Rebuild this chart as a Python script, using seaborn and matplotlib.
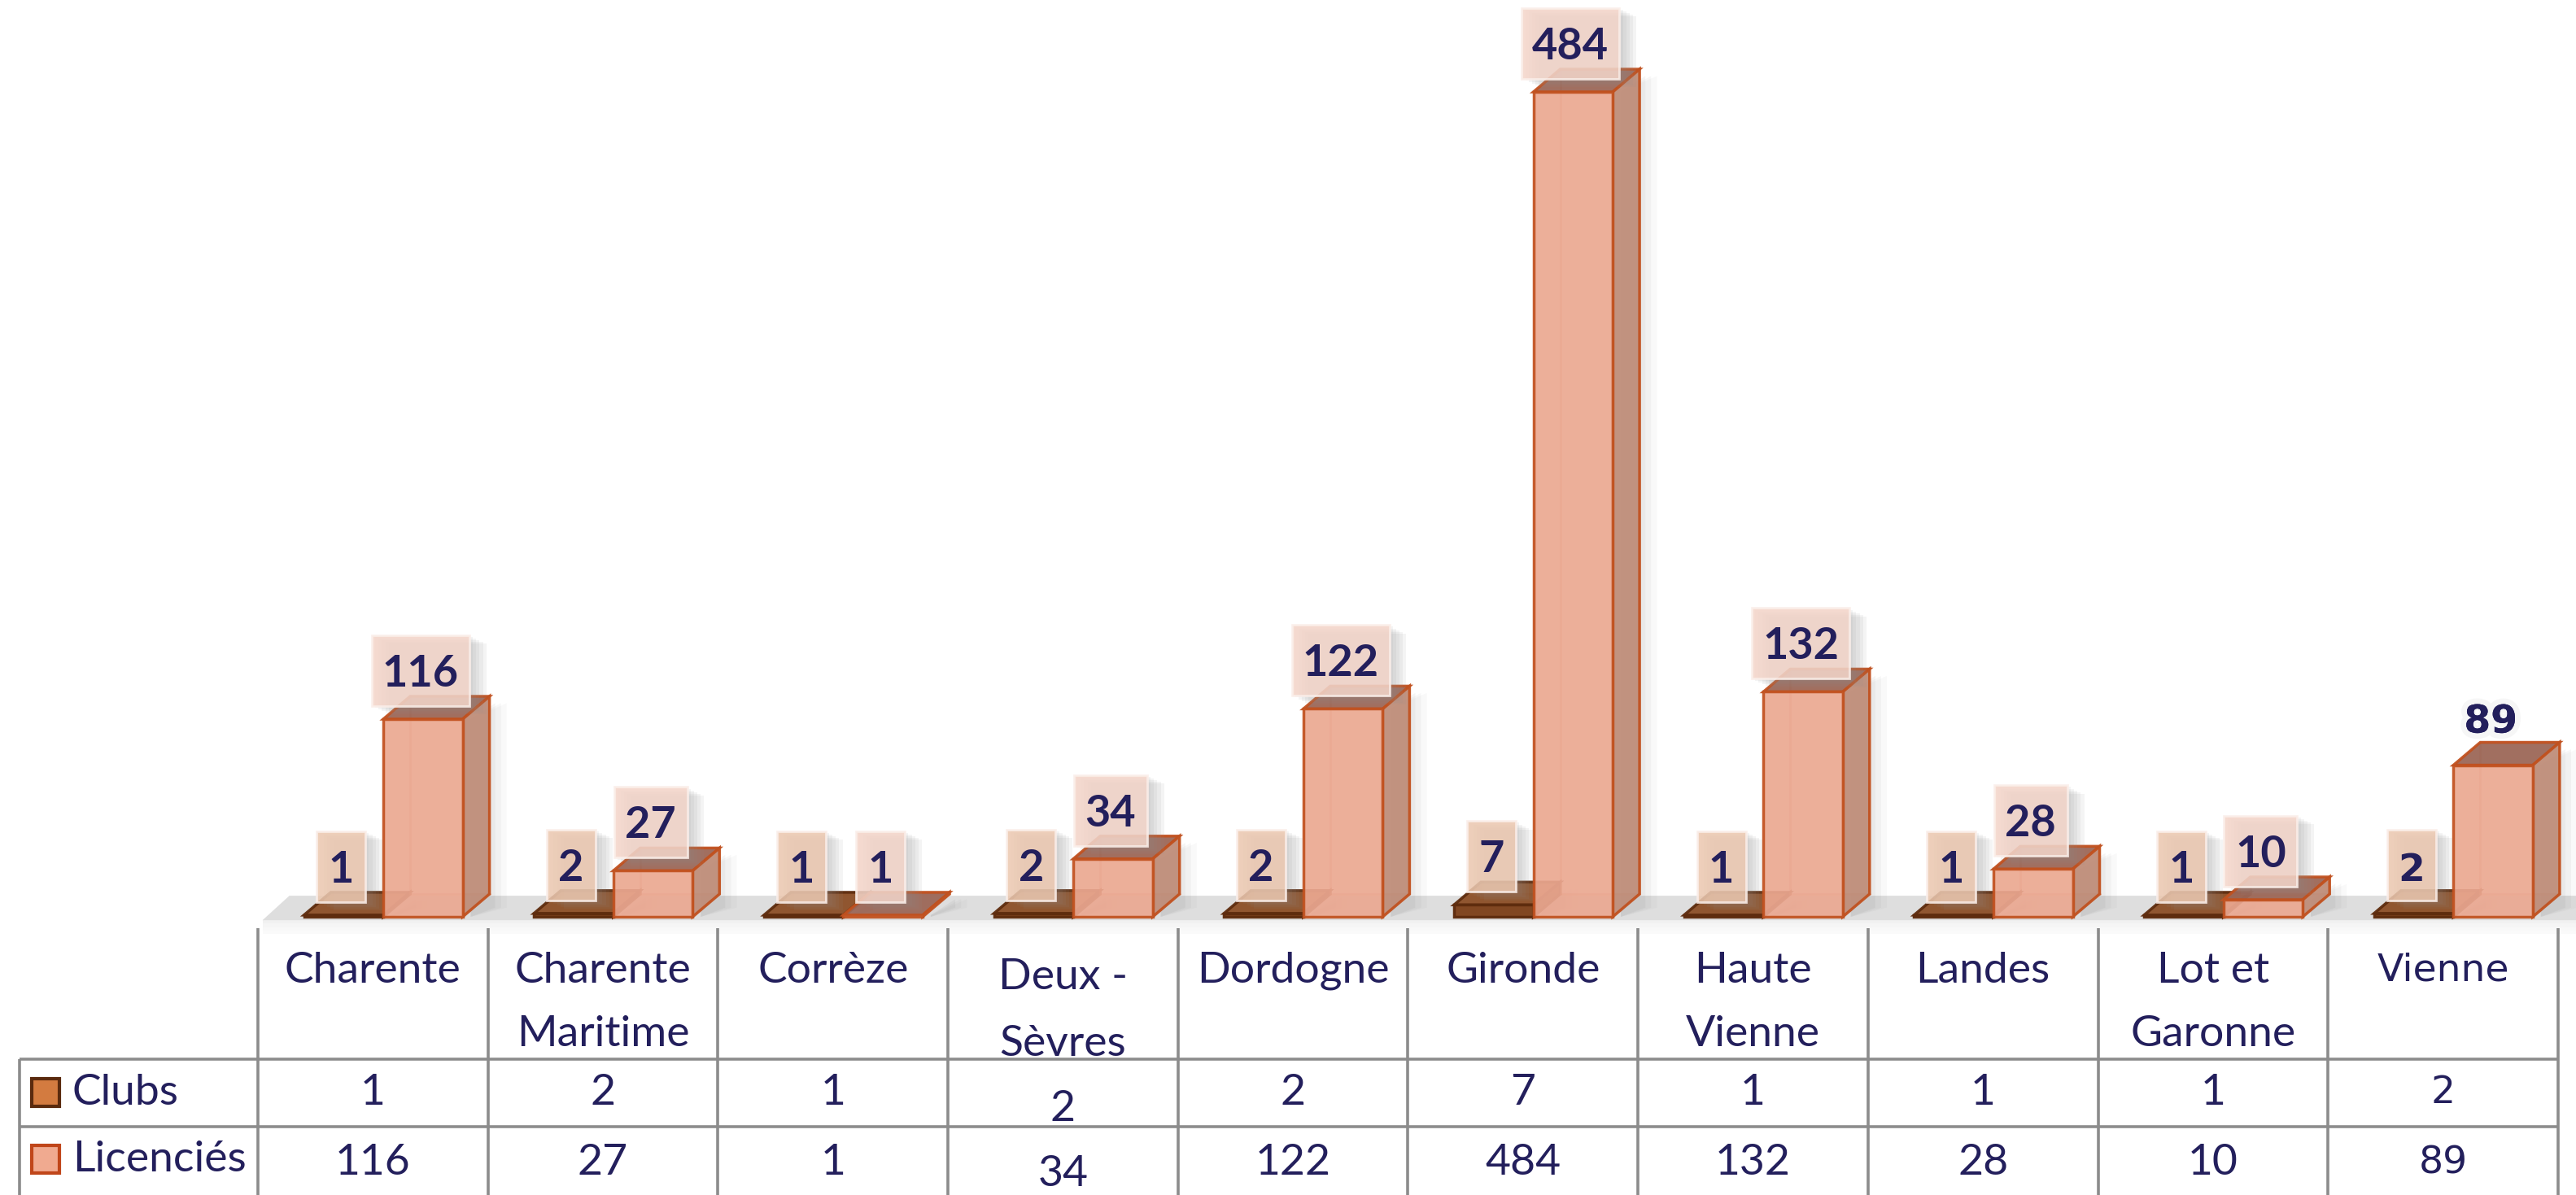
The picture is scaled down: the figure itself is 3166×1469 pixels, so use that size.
import numpy as np
import pandas as pd
import matplotlib
matplotlib.use("Agg")
import matplotlib.pyplot as plt
import seaborn as sns
from matplotlib.patches import Polygon, Rectangle
from matplotlib import patheffects as pe

# ---- data -------------------------------------------------------------
categories = ["Charente", "Charente Maritime", "Corrèze", "Deux - Sèvres", "Dordogne",
              "Gironde", "Haute Vienne", "Landes", "Lot et Garonne", "Vienne"]
header_lines = [["Charente"], ["Charente", "Maritime"], ["Corrèze"], ["Deux -", "Sèvres"],
                ["Dordogne"], ["Gironde"], ["Haute", "Vienne"], ["Landes"],
                ["Lot et", "Garonne"], ["Vienne"]]
series = ["Clubs", "Licenciés"]
clubs = [1, 2, 1, 2, 2, 7, 1, 1, 1, 2]
licencies = [116, 27, 1, 34, 122, 484, 132, 28, 10, 89]

# ---- page geometry (pixels) -------------------------------------------
W, H = 3166, 1469
COL0, COLW = 317, 282.7       # left edge of first category column, column width
BASE, PXU = 1127, 2.095       # floor line (from top) and pixels per unit
DX = 33 / COLW                # depth offset of the 3D boxes (data units)
DY = 28 / PXU

NAVY = "#231f5c"
GRID = "#8c8c8c"
MAIN_FONT = ["Lato", "DejaVu Sans"]
ALT_FONT = ["DejaVu Sans"]

sns.set_theme(style="white")
plt.rcParams["font.family"] = MAIN_FONT

fig = plt.figure(figsize=(W / 100, H / 100), dpi=100)
fig.patch.set_facecolor("white")

# table layer (pixel coordinates)
tab = fig.add_axes([0, 0, 1, 1], zorder=0)
tab.set_xlim(0, W)
tab.set_ylim(H, 0)
tab.axis("off")

# chart layer (data coordinates)
ax = fig.add_axes([0, 0, 1, 1], zorder=1)
ax.patch.set_visible(False)

df = pd.DataFrame({
    "Département": categories * 2,
    "Série": [series[0]] * len(categories) + [series[1]] * len(categories),
    "Valeur": clubs + licencies,
})

front_colors = {"Clubs": "#7e421c", "Licenciés": "#eba891"}
sns.barplot(data=df, x="Département", y="Valeur", hue="Série",
            order=categories, hue_order=series, palette=front_colors,
            width=0.69, dodge=True, saturation=1, legend=False,
            errorbar=None, ax=ax)

ax.set_xlim(-0.5 - COL0 / COLW, -0.5 + (W - COL0) / COLW)
ax.set_ylim(-(H - BASE) / PXU, BASE / PXU)
ax.axis("off")

# ---- floor ----------------------------------------------------------------
xl, xr = -0.48, ax.get_xlim()[1] + 0.2
for k, a in enumerate([0.10, 0.07, 0.05, 0.03]):
    ax.add_patch(Polygon([(xl, -2 - 2 * k), (xr, -2 - 2 * k), (xr, -4 - 2 * k), (xl, -4 - 2 * k)],
                         closed=True, fc="#7a7a7a", ec="none", alpha=a, zorder=1))
ax.add_patch(Polygon([(xl, -2), (xr, -2), (xr + DX, DY - 1), (xl + DX, DY - 1)],
                     closed=True, fc="#dedede", ec="none", zorder=1.2))

# ---- 3D boxes ---------------------------------------------------------------
styles = {
    "Clubs": dict(side="#6a3414", top="#8c4f26", edge="#5e2c0e", alpha=0.97),
    "Licenciés": dict(side="#bf8d79", top="#9c6757", edge="#c1511f", alpha=0.92),
}
shift = 0.045
bar_geom = {s: [] for s in series}
for s, cont, zbase in zip(series, ax.containers, [3, 5]):
    st = styles[s]
    for i, rect in enumerate(cont):
        rect.set_x(rect.get_x() + shift)
        x0, w, h = rect.get_x(), rect.get_width(), rect.get_height()
        bar_geom[s].append((x0, w, h))
        z = zbase + i * 0.01
        # soft shadow to the right of the box
        for k, a in enumerate([0.06, 0.045, 0.03]):
            off = (k + 1) * 0.025
            ax.add_patch(Polygon([(x0 + w + DX * 0.3, 0), (x0 + w + DX + off, DY * 0.4),
                                  (x0 + w + DX + off, h + DY - 4), (x0 + w + DX * 0.3, h)],
                                 closed=True, fc="#555555", ec="none", alpha=a, zorder=z - 0.5))
        # back edges seen through the translucent faces
        ax.plot([x0 + DX, x0 + DX], [DY, h + DY], color=st["edge"], lw=2, alpha=0.35, zorder=z)
        ax.plot([x0 + DX, x0 + w + DX], [DY, DY], color=st["edge"], lw=2, alpha=0.35, zorder=z)
        ax.add_patch(Polygon([(x0, h), (x0 + w, h), (x0 + w + DX, h + DY), (x0 + DX, h + DY)],
                             closed=True, fc=st["top"], ec=st["edge"], lw=2.5,
                             alpha=0.95, zorder=z + 0.1))
        ax.add_patch(Polygon([(x0 + w, 0), (x0 + w + DX, DY), (x0 + w + DX, h + DY), (x0 + w, h)],
                             closed=True, fc=st["side"], ec=st["edge"], lw=2.5,
                             alpha=0.95, zorder=z + 0.1))
        rect.set_edgecolor(st["edge"])
        rect.set_linewidth(2.5)
        rect.set_alpha(st["alpha"])
        rect.set_zorder(z + 0.2)

# ---- value labels -----------------------------------------------------------
box_colors = {"Clubs": "#ecc8b0", "Licenciés": "#f4d5c9"}
shadow = [pe.SimplePatchShadow(offset=(o, -o * 0.5), shadow_rgbFace="#8f8f8f", alpha=0.09)
          for o in (3, 6, 9, 12, 15)] + [pe.Normal()]
BOX_H = 87 / PXU              # label box height (units)
GAP = 16 / PXU                # gap between bar top and label box
CAP = 39 / PXU                # digit height
for s, values in zip(series, [clubs, licencies]):
    for i, (x0, w, h) in enumerate(bar_geom[s]):
        last = categories[i] == "Vienne"
        fam = ALT_FONT if last else MAIN_FONT
        size = 34 if last else 39
        label = f"{values[i]}"
        cx = x0 + w / 2 - 3 / COLW
        yb = h + GAP
        show_box = not (last and s == "Licenciés")
        if show_box:
            bw = (30 + 30 * len(label)) / COLW
            box = Rectangle((cx - bw / 2, yb), bw, BOX_H, fc=box_colors[s], ec="#fbefea",
                            lw=2, alpha=0.85, zorder=19)
            box.set_path_effects(shadow)
            ax.add_patch(box)
        t = ax.text(cx, yb + BOX_H / 2 - CAP / 2, label, ha="center", va="baseline",
                    fontsize=size, fontweight="bold", color=NAVY, family=fam, zorder=20)
        if not show_box:
            t.set_path_effects([pe.withStroke(linewidth=10, foreground="#eeeeee", alpha=0.5),
                                pe.Normal()])

# ---- data table -------------------------------------------------------------
right = COL0 + COLW * len(categories)
top_v, row1, row2 = 1141, 1302, 1385
lw = 2.6
for k in range(len(categories) + 1):
    x = COL0 + k * COLW
    tab.plot([x, x], [top_v, H], color=GRID, lw=lw, solid_capstyle="butt")
tab.plot([24, 24], [row1, H], color=GRID, lw=lw, solid_capstyle="butt")
for y in (row1, row2):
    tab.plot([24, right], [y, y], color=GRID, lw=lw, solid_capstyle="butt")

for k, lines in enumerate(header_lines):
    cx = COL0 + (k + 0.5) * COLW
    last = categories[k] == "Vienne"
    fam = ALT_FONT if last else MAIN_FONT
    size = 34 if last else 38.5
    ys = [1193, 1272]
    if categories[k] == "Deux - Sèvres":
        ys = [1201, 1284]
    for line, y in zip(lines, ys):
        tab.text(cx, y, line, ha="center", va="center", fontsize=size, color=NAVY, family=fam)
    y1, y2 = (1363, 1444) if categories[k] == "Deux - Sèvres" else (1343, 1430)
    tab.text(cx, y1, f"{clubs[k]}", ha="center", va="center", fontsize=size, color=NAVY, family=fam)
    tab.text(cx, y2, f"{licencies[k]}", ha="center", va="center", fontsize=size, color=NAVY, family=fam)

# legend keys in the row headers
keys = [("Clubs", 1343, "#d37b40", "#5a2a0e"), ("Licenciés", 1425, "#f0aa90", "#c0461a")]
for name, y, fc, ec in keys:
    tab.add_patch(Rectangle((39, y - 17), 34, 34, fc=fc, ec=ec, lw=3, zorder=3))
    tab.text(89, y, name, ha="left", va="center", fontsize=38.5, color=NAVY, family=MAIN_FONT)

fig.savefig("out.png", dpi=100, facecolor="white")
